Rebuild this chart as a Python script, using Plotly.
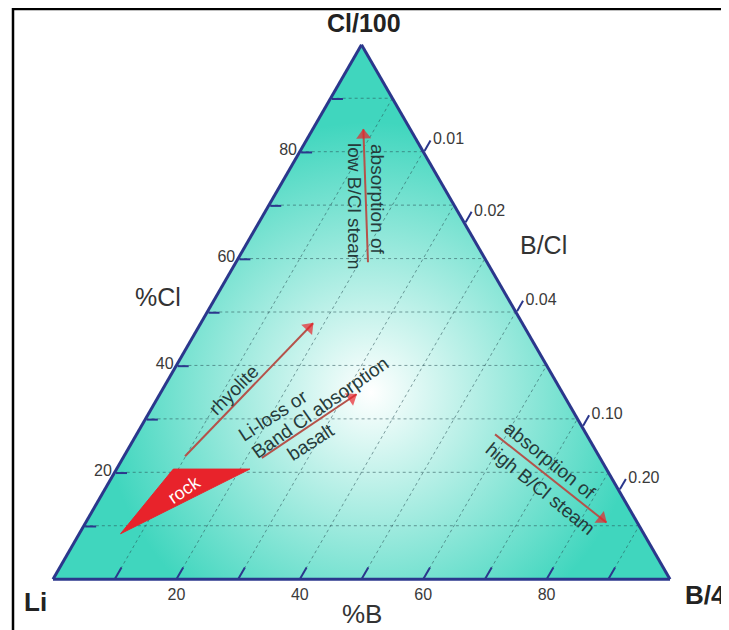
import plotly.graph_objects as go

# ---------------- data ----------------
# Ternary components: Cl/100 (top), Li (bottom-left), B/4 (bottom-right), in %
cl_grid = [10, 20, 30, 40, 50, 60, 70, 80, 90]          # %Cl grid / ticks
b_grid = [10, 20, 30, 40, 50, 60, 70, 80, 90]           # %B grid / ticks
cl_tick_text = ["", "20", "", "40", "", "60", "", "80", ""]
b_tick_labels = [20, 40, 60, 80]
bcl_ratios = [0.01, 0.02, 0.04, 0.10, 0.20]             # B/Cl ticks on right edge
bcl_text = ["0.01", "0.02", "0.04", "0.10", "0.20"]

rock_cl = [8.5, 20.6, 20.6, 8.5]
rock_b = [6.7, 9.2, 21.6, 6.7]

rhyolite_cl = [23.0, 47.9]
rhyolite_b = [9.9, 18.2]
basalt_cl = [22.7, 34.6]
basalt_b = [22.5, 31.9]
lowbcl_cl = [59.3, 84.2]
lowbcl_b = [21.4, 8.2]
highbcl_cl = [27.1, 10.6]
highbcl_b = [58.1, 84.4]

glow_cl = [35.0]
glow_b = [34.0]

# ---------------- style ----------------
TEAL = "#40d6be"
NAVY = "#2b378c"
GRID = "rgba(40,80,85,0.55)"
SHAFT = "#b5524a"
HEAD = "#e8232b"
TXT = "#263b3b"
FONT = "Liberation Sans, Arial, sans-serif"
W, H = 729, 630
OFF = 8  # page body margin of the browser


def li(cl, b):
    return [None if (x is None) else 100 - x - y for x, y in zip(cl, b)]


def px2paper(px, py):
    return (px - OFF) / W, 1 - (py - OFF) / H


fig = go.Figure()

# radial glow (white centre fading to teal)
fig.add_trace(go.Scatterternary(
    a=glow_cl, b=li(glow_cl, glow_b), c=glow_b, mode="markers",
    marker=dict(size=540, color=TEAL, gradient=dict(type="radial", color="#ffffff"),
                line=dict(width=0)),
    hoverinfo="skip", cliponaxis=True, showlegend=False))

# grid lines of constant Cl
ga, gb, gc = [], [], []
for v in cl_grid:
    ga += [v, v, None]
    gb += [100 - v, 0, None]
    gc += [0, 100 - v, None]
fig.add_trace(go.Scatterternary(a=ga, b=gb, c=gc, mode="lines",
                                line=dict(color=GRID, width=1, dash="dot"),
                                hoverinfo="skip", showlegend=False))
# grid lines of constant B
ga, gb, gc = [], [], []
for v in b_grid:
    ga += [0, 100 - v, None]
    gb += [100 - v, 0, None]
    gc += [v, v, None]
fig.add_trace(go.Scatterternary(a=ga, b=gb, c=gc, mode="lines",
                                line=dict(color=GRID, width=1, dash="dot"),
                                hoverinfo="skip", showlegend=False))
# bottom-edge ticks (along constant-B direction)
ta, tb, tc = [], [], []
for v in b_grid:
    ta += [0, 2.2, None]
    tb += [100 - v, 100 - v - 2.2, None]
    tc += [v, v, None]
fig.add_trace(go.Scatterternary(a=ta, b=tb, c=tc, mode="lines",
                                line=dict(color=NAVY, width=2),
                                hoverinfo="skip", showlegend=False))

# rock field
fig.add_trace(go.Scatterternary(a=rock_cl, b=li(rock_cl, rock_b), c=rock_b, mode="lines",
                                fill="toself", fillcolor=HEAD, line=dict(color=HEAD, width=1),
                                hoverinfo="skip", showlegend=False))

# arrows
for acl, ab in [(rhyolite_cl, rhyolite_b), (basalt_cl, basalt_b),
                (lowbcl_cl, lowbcl_b), (highbcl_cl, highbcl_b)]:
    fig.add_trace(go.Scatterternary(a=acl, b=li(acl, ab), c=ab, mode="lines",
                                    line=dict(color=SHAFT, width=2),
                                    hoverinfo="skip", showlegend=False))
    fig.add_trace(go.Scatterternary(a=acl, b=li(acl, ab), c=ab, mode="markers",
                                    marker=dict(symbol="triangle-up", size=[0, 13], color=HEAD,
                                                angleref="previous", standoff=6,
                                                line=dict(width=0)),
                                    hoverinfo="skip", showlegend=False))

# B/Cl ratio -> position on right edge (Li = 0): c/a = 25 * B/Cl
bcl_pos = [100 * 25 * r / (1 + 25 * r) for r in bcl_ratios]

axis_common = dict(linecolor=NAVY, linewidth=3, showgrid=False, min=0,
                   tickfont=dict(family=FONT, size=16, color="#3a3a3a"),
                   title=dict(text=""))

dx0, dy0 = px2paper(53, 583)
dx1, dy1 = px2paper(670, 41)

fig.update_layout(
    width=W, height=H, margin=dict(l=0, r=0, t=0, b=0),
    paper_bgcolor="white", showlegend=False,
    font=dict(family=FONT),
    ternary=dict(
        sum=100,
        domain=dict(x=[dx0, dx1], y=[dy0, dy1]),
        bgcolor=TEAL,
        aaxis=dict(tickmode="array", tickvals=cl_grid, ticktext=cl_tick_text,
                   ticks="inside", ticklen=11, tickwidth=2, tickcolor=NAVY, **axis_common),
        baxis=dict(tickmode="array", tickvals=[100 - v for v in b_tick_labels],
                   ticktext=[str(v) for v in b_tick_labels], ticks="", **axis_common),
        caxis=dict(tickmode="array", tickvals=bcl_pos, ticktext=bcl_text,
                   ticks="outside", ticklen=12, tickwidth=2, tickcolor=NAVY, **axis_common),
    ),
)


def ann(text, px, py, size, angle=0, bold=False, color="#222222"):
    x, y = px2paper(px, py)
    fig.add_annotation(text=("<b>%s</b>" % text) if bold else text,
                       x=x, y=y, xref="paper", yref="paper",
                       xanchor="center", yanchor="middle", showarrow=False,
                       textangle=angle, font=dict(family=FONT, size=size, color=color))


# corner and axis names
ann("Cl/100", 364, 23, 25, bold=True)
ann("Li", 35, 602, 26, bold=True)
ann("B/4", 705, 595, 26, bold=True)
ann("%Cl", 158, 297, 25, color="#333333")
ann("%B", 362, 614, 26, color="#333333")
ann("B/Cl", 543, 245, 25, color="#333333")

# process labels
ann("absorption of", 378, 199, 19, angle=90, color=TXT)
ann("low B/Cl steam", 355, 206, 19, angle=90, color=TXT)
ann("rhyolite", 233, 390, 19, angle=-45, color=TXT)
ann("Li-loss or", 273, 415, 19, angle=-33, color=TXT)
ann("Band Cl absorption", 320, 407, 19, angle=-35, color=TXT)
ann("basalt", 310, 442, 19, angle=-33, color=TXT)
ann("absorption of", 550, 460, 19, angle=39, color=TXT)
ann("high B/Cl steam", 540, 489, 19, angle=39, color=TXT)
ann("rock", 184, 490, 18, angle=-34, color="#ffffff")

# outer frame
fx0, fy1 = px2paper(13, 9)
fig.add_shape(type="rect", xref="paper", yref="paper", x0=fx0, x1=1.05,
              y0=-0.05, y1=fy1, line=dict(color="black", width=2.5),
              fillcolor="rgba(0,0,0,0)", layer="above")

fig.write_html("out.html")
